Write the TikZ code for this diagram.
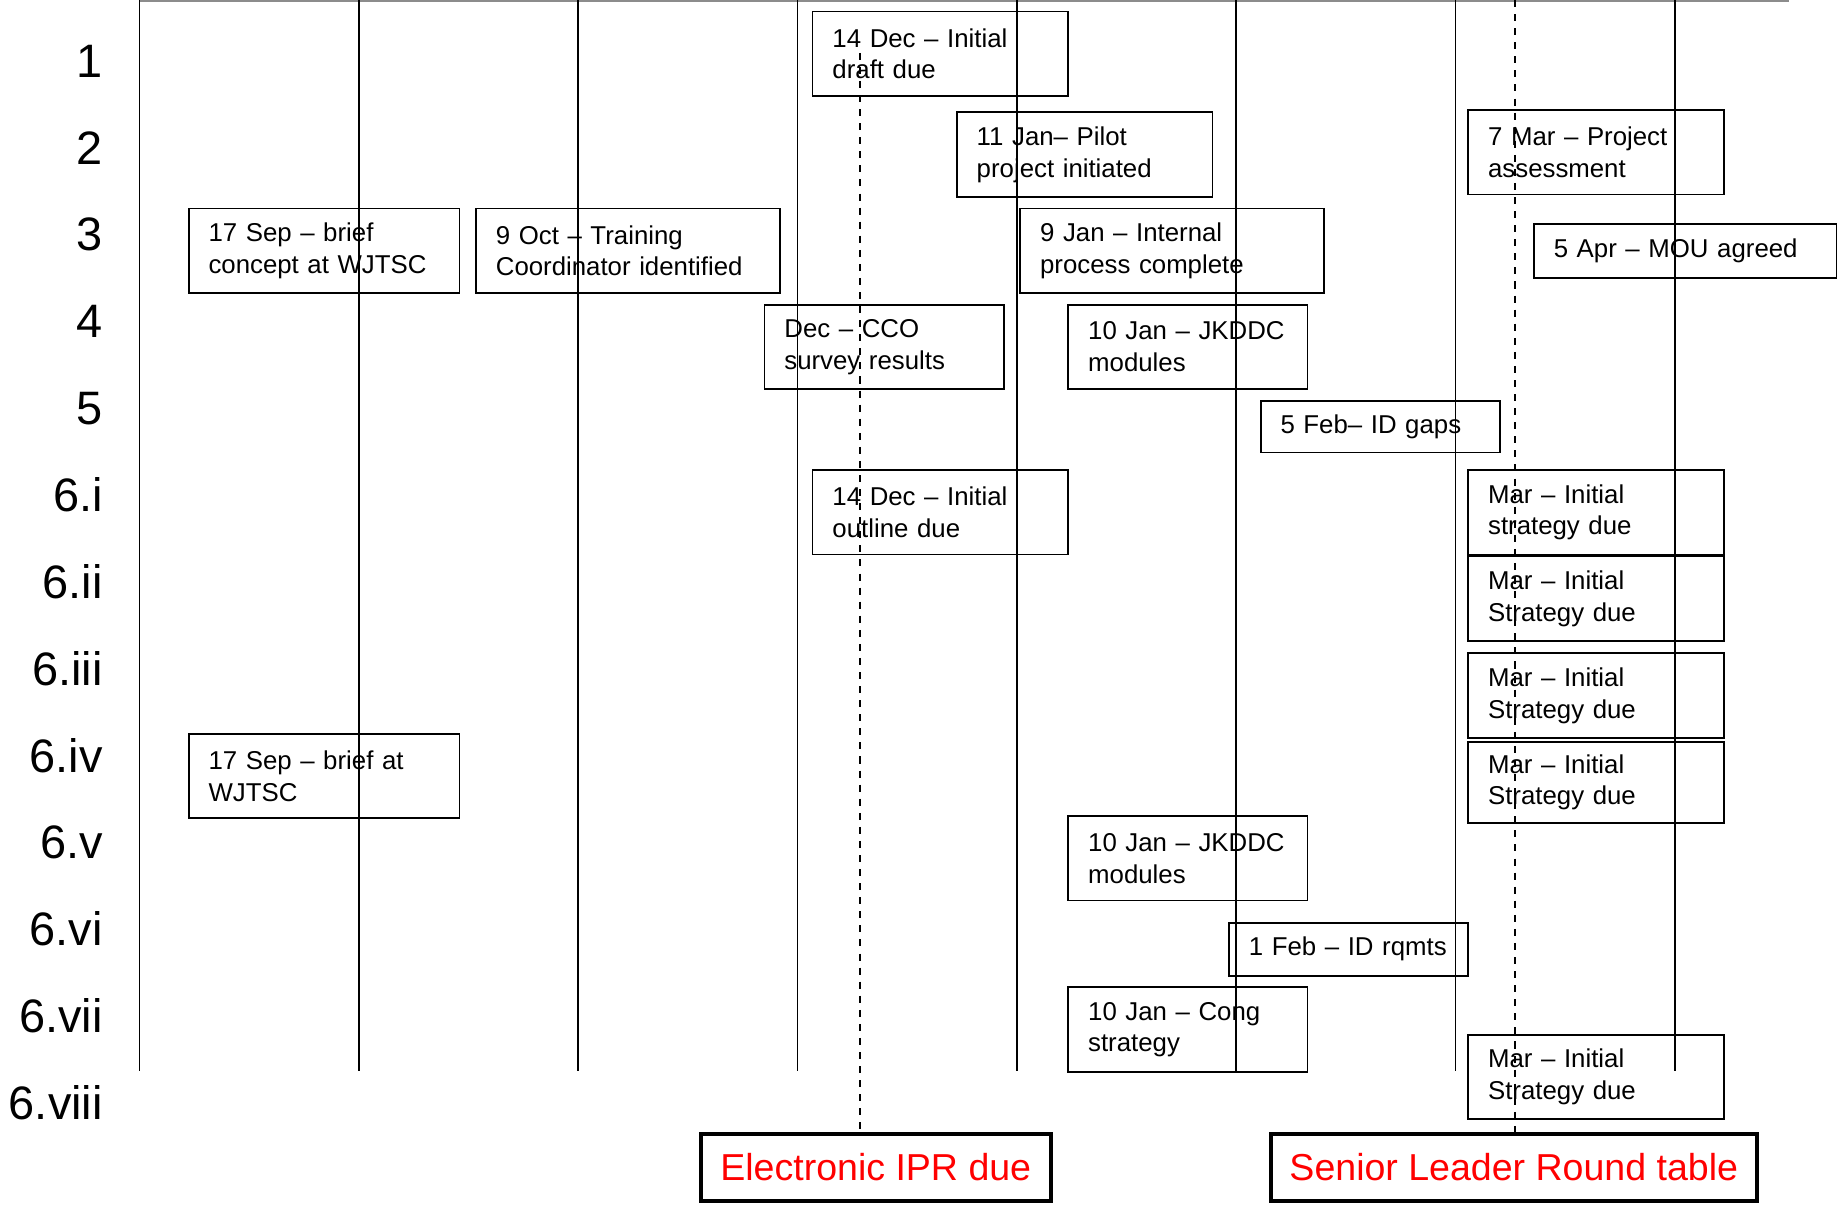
\documentclass[tikz,border=0pt]{standalone}
\usepackage{fontspec}
\setmainfont{Liberation Sans}
\usetikzlibrary{positioning}

\begin{document}
\begin{tikzpicture}[x=0.5pt, y=-0.5pt,
    event/.style={rectangle, draw=black, line width=0.8pt, anchor=north west, align=left, inner xsep=8.5pt, inner ysep=0pt, text width=#1, minimum height=36pt, font=\fontsize{11}{13.5}\selectfont},
    milestone/.style={rectangle, draw=black, line width=1.7pt, anchor=north west, text=red, inner sep=0pt, minimum width=#1, minimum height=28.5pt, font=\fontsize{16}{19}\selectfont},
    rowlabel/.style={anchor=east, inner sep=0pt, font=\fontsize{20}{24}\selectfont}]
    \useasboundingbox (0,0) rectangle (1568,1028);

    % Month grid
    \draw [black!45, line width=0.7pt] (119,0.8) -- (1525,0.8);
    \foreach \x in {119,306,...,1428}
        \draw [line width=0.7pt] (\x,0) -- (\x,913);

    % Task numbers down the left side
    \foreach \lab [count=\i from 0] in {1,2,3,4,5,6.i,6.ii,6.iii,6.iv,6.v,6.vi,6.vii,6.viii}
        \node [rowlabel] (row\i) at (88, 52+74*\i) {\lab};

    % Events - rows 1 to 5
    \node [event=92pt] (draft) at (692,9) {14 Dec -- Initial\\draft due};
    \node [event=92pt] (pilot) at (815,95) {11 Jan-- Pilot\\project initiated};
    \node [event=92pt] (assess) at (1251,93) {7 Mar -- Project\\assessment};
    \node [event=98.5pt] (brief) at (160,177) {17 Sep -- brief\\concept at WJTSC};
    \node [event=112.5pt] (coord) at (405,177) {9 Oct -- Training\\Coordinator identified};
    \node [event=112.5pt] (internal) at (869,177) {9 Jan -- Internal\\process complete};
    \node [event=112pt, minimum height=23pt] (mou) at (1307,190) {5 Apr -- MOU agreed};
    \node [event=85pt] (cco) at (651,259) {Dec -- CCO\\survey results};
    \node [event=85pt] (jkddc) at (910,259) {10 Jan -- JKDDC\\modules};
    \node [event=85pt, minimum height=22pt] (gaps) at (1074,341) {5 Feb-- ID gaps};

    % Events - row 6 sub tasks
    \node [event=92pt] (outline) at (692,400) {14 Dec -- Initial\\outline due};
    \node [event=92pt] (strati) at (1251,400) {Mar -- Initial\\strategy due};
    \node [event=92pt, below=0pt of strati] (stratii) {Mar -- Initial\\Strategy due};
    \node [event=92pt, below=4.5pt of stratii] (stratiii) {Mar -- Initial\\Strategy due};
    \node [event=92pt, minimum height=34.5pt, below=1pt of stratiii] (strativ) {Mar -- Initial\\Strategy due};
    \node [event=98.5pt] (briefwj) at (160,625) {17 Sep -- brief at\\WJTSC};
    \node [event=85pt] (jkddcmod) at (910,695) {10 Jan -- JKDDC\\modules};
    \node [event=85pt, minimum height=22.5pt] (rqmts) at (1047,786) {1 Feb -- ID rqmts};
    \node [event=85pt] (cong) at (910,841) {10 Jan -- Cong\\strategy};
    \node [event=92pt, minimum height=35.5pt] (stratviii) at (1251,882) {Mar -- Initial\\Strategy due};

    % Milestones along the bottom
    \node [milestone=149pt] (ipr) at (596,965) {Electronic IPR due};
    \node [milestone=207pt] (slrt) at (1082,965) {Senior Leader Round table};

    % Milestone date lines
    \coordinate (iprdate) at (733,45);
    \coordinate (slrtdate) at (1292,0);
    \draw [dashed, line width=0.7pt] (iprdate) -- (iprdate |- ipr.north);
    \draw [dashed, line width=0.7pt] (slrtdate) -- (slrtdate |- slrt.north);

\end{tikzpicture}
\end{document}
